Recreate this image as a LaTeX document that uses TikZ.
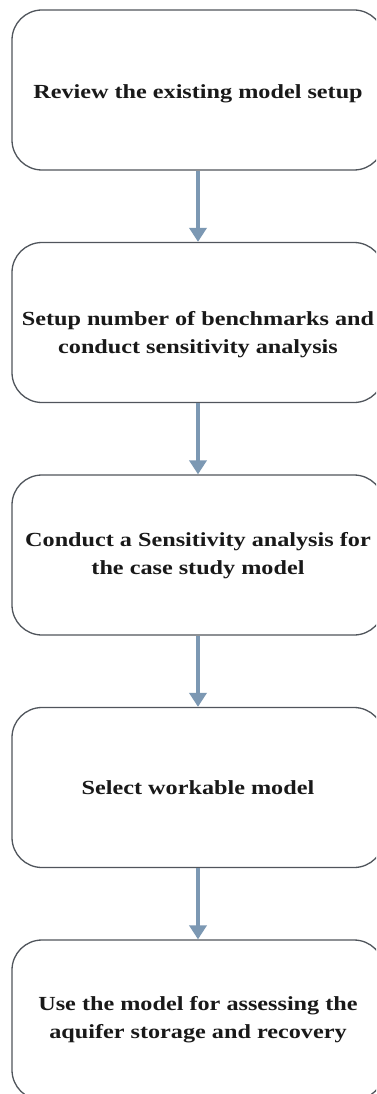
\documentclass[tikz,border=0pt]{standalone}
\usepackage{fontspec}
\setmainfont{Liberation Serif}[FakeStretch=1.21]
\usetikzlibrary{arrows.meta}
\definecolor{boxline}{HTML}{50555C}
\definecolor{arrowblue}{HTML}{7C98B3}
\tikzset{
  stepbox/.style={draw=boxline, line width=1.3pt, rounded corners=30pt, fill=white,
    minimum width=372pt, minimum height=160pt},
  steptext/.style={align=center, inner sep=0pt, text=black!90,
    font=\fontsize{20}{28}\selectfont\bfseries},
  flow/.style={draw=arrowblue, line width=4pt, -{Triangle[length=14pt,width=17pt]}}
}
\begin{document}
\begin{tikzpicture}[x=1pt,y=1pt]
\useasboundingbox (0,0) rectangle (376,-1094);
\clip (0,0) rectangle (376,-1094);
\fill[white] (0,0) rectangle (376,-1094);
\node[stepbox] (b1) at (198,-90) {};
\node[stepbox] (b2) at (198,-322.5) {};
\node[stepbox] (b3) at (198,-555) {};
\node[stepbox] (b4) at (198,-787.5) {};
\node[stepbox] (b5) at (198,-1020) {};
\node[steptext] (t1) at ([yshift=-4pt]b1.center) {Review the existing model setup};
\node[steptext] (t2) at ([yshift=-12pt]b2.center) {Setup number of benchmarks and\\conduct sensitivity analysis};
\node[steptext] (t3) at ([yshift=-1pt]b3.center) {Conduct a Sensitivity analysis for\\the case study model};
\node[steptext] (t4) at (b4.center) {Select workable model};
\node[steptext] (t5) at (b5.center) {Use the model for assessing the\\aquifer storage and recovery};
\draw[flow] (b1.south) -- (b2.north);
\draw[flow] (b2.south) -- (b3.north);
\draw[flow] (b3.south) -- (b4.north);
\draw[flow] (b4.south) -- (b5.north);
\end{tikzpicture}
\end{document}
